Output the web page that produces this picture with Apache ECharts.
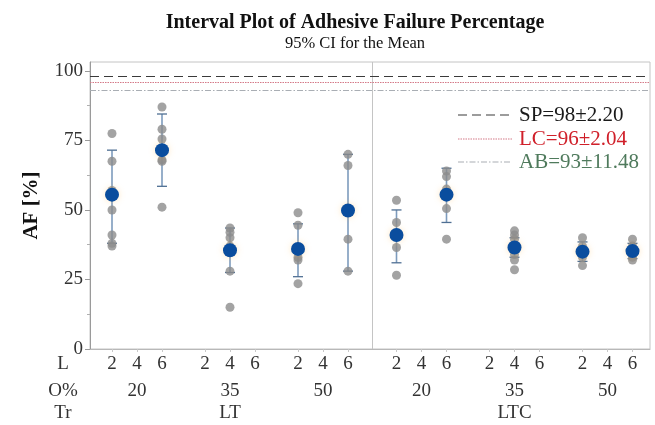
<!DOCTYPE html>
<html>
<head>
<meta charset="utf-8">
<script src="https://cdn.jsdelivr.net/npm/echarts@6/dist/echarts.min.js"></script>
<style>html,body{margin:0;padding:0;background:#fff}#c{width:655px;height:425px}</style>
</head>
<body>
<div id="c"></div>
<script>
// ---- data ----
var trLabels = ['LT', 'LTC'];
var oLabels = ['20', '35', '50', '20', '35', '50'];
var lLabels = ['2', '4', '6'];
// cells that have data: [group index, level index]
var cells = [[0,0],[0,2],[1,1],[2,0],[2,2],[3,0],[3,2],[4,1],[5,0],[5,2]];
var means = [55.5, 71.5, 35.5, 36, 49.8, 41, 55.5, 36.5, 35, 35.2];
var ciLow = [38, 58.5, 27.5, 26, 28, 31, 45.5, 33, 31.5, 32.5];
var ciHigh = [71.5, 84.5, 43.5, 45, 70, 50, 65, 40, 38.5, 38];
var obs = [
  [77.5, 67.5, 57, 50, 41, 38, 37],
  [87, 79, 75.5, 68, 67.5, 51],
  [43.5, 42, 40, 37, 28, 15],
  [49, 44.5, 33, 32, 23.5],
  [70, 66, 39.5, 28],
  [53.5, 45.5, 36.5, 26.5],
  [64, 62, 57.5, 50.5, 39.5],
  [42.5, 41, 39.5, 34, 32, 28.5],
  [40, 37, 33, 30],
  [39.5, 37, 34, 33, 32]
];
var refNames = ['SP=98\u00b12.20', 'LC=96\u00b12.04', 'AB=93\u00b111.48'];
var refValues = [98, 96, 93];
var yTicks = [0, 25, 50, 75, 100];

// ---- layout helpers ----
function pos(g, l) { return g * 3.72 + l + (g >= 3 ? 0.22 : 0); }
var slotPos = [], slotLab = {};
for (var g = 0; g < 6; g++) for (var l = 0; l < 3; l++) { var p = +pos(g, l).toFixed(3); slotPos.push(p); slotLab[p] = lLabels[l]; }
var grpPos = [], grpLab = {};
for (var g2 = 0; g2 < 6; g2++) { var c = +pos(g2, 1).toFixed(3); grpPos.push(c); grpLab[c] = oLabels[g2]; }
var trPos = [+((pos(0,0)+pos(2,2))/2).toFixed(3), +((pos(3,0)+pos(5,2))/2).toFixed(3)];
var trLab = {}; trLab[trPos[0]] = trLabels[0]; trLab[trPos[1]] = trLabels[1];
var divider = (pos(2,2) + pos(3,0)) / 2;

var ptData = [], meanData = [], ciData = [];
cells.forEach(function (cl, i) {
  var x = pos(cl[0], cl[1]);
  obs[i].forEach(function (v) { ptData.push([x, v]); });
  meanData.push([x, means[i]]);
  ciData.push([x, ciLow[i], ciHigh[i]]);
});

var serif = '"Liberation Serif", "DejaVu Serif", serif';
var refStyles = [
  {color: '#3a3a3a', type: [9, 5], width: 1.2},
  {color: '#d47a88', type: [1.5, 1], width: 1.2},
  {color: '#a9aeb4', type: [6, 2, 1.5, 2], width: 1.2}
];
var refTextColors = ['#1a1a1a', '#d0202a', '#4f7a5c'];

var chart = echarts.init(document.getElementById('c'), null, {renderer: 'canvas'});
var xBase = {type: 'value', min: -0.88, max: 21.52, position: 'bottom', splitLine: {show: false}};
var graphics = [];
['L', 'O%', 'Tr'].forEach(function (t, i) {
  graphics.push({type: 'text', x: 63, y: [364, 391, 413][i],
    style: {text: t, font: '19px ' + serif, fill: '#333', align: 'center', verticalAlign: 'middle'}});
});
refNames.forEach(function (t, i) {
  var yy = [115, 139, 162][i];
  graphics.push({type: 'line', shape: {x1: 458, y1: yy, x2: 512, y2: yy},
    style: {stroke: refStyles[i].color, lineWidth: 1.2, lineDash: refStyles[i].type}});
  graphics.push({type: 'text', x: 519, y: yy,
    style: {text: t, font: '21px ' + serif, fill: refTextColors[i], verticalAlign: 'middle'}});
});

chart.setOption({
  animation: false,
  backgroundColor: '#fff',
  title: {
    text: 'Interval Plot of Adhesive Failure Percentage',
    subtext: '95% CI for the Mean',
    left: 350, textAlign: 'center', top: 8, itemGap: 2,
    textStyle: {fontFamily: serif, fontWeight: 'bold', fontSize: 20, color: '#111'},
    subtextStyle: {fontFamily: serif, fontSize: 16.5, color: '#111'}
  },
  grid: {left: 90, right: 5, top: 62, bottom: 76, show: true, borderColor: '#c4c4c4', borderWidth: 1},
  xAxis: [
    Object.assign({}, xBase, {
      axisLine: {show: true, onZero: false, lineStyle: {color: '#b8b8b8'}},
      axisTick: {show: true, length: 3, customValues: slotPos, lineStyle: {color: '#c8c8c8'}},
      axisLabel: {customValues: slotPos, margin: 6, fontFamily: serif, fontSize: 19, color: '#333',
        formatter: function (v) { return slotLab[+v.toFixed(3)] || ''; }}
    }),
    Object.assign({}, xBase, {
      offset: 27, axisLine: {show: false, onZero: false}, axisTick: {show: false},
      axisLabel: {customValues: grpPos, margin: 6, fontFamily: serif, fontSize: 19, color: '#333',
        formatter: function (v) { return grpLab[+v.toFixed(3)] || ''; }}
    }),
    Object.assign({}, xBase, {
      offset: 50, axisLine: {show: false, onZero: false}, axisTick: {show: false},
      axisLabel: {customValues: trPos, margin: 5, fontFamily: serif, fontSize: 19, color: '#333',
        formatter: function (v) { return trLab[+v.toFixed(3)] || ''; }}
    })
  ],
  yAxis: {
    type: 'value', min: 0, max: 103.2, interval: 25,
    name: 'AF [%]', nameLocation: 'middle', nameGap: 48,
    nameTextStyle: {fontFamily: serif, fontWeight: 'bold', fontSize: 21, color: '#111'},
    axisLine: {show: true, onZero: false, lineStyle: {color: '#9a9a9a'}},
    axisTick: {show: true, length: 5, customValues: yTicks, lineStyle: {color: '#9a9a9a'}},
    minorTick: {show: true, splitNumber: 2, length: 3, lineStyle: {color: '#b0b0b0'}},
    splitLine: {show: false},
    axisLabel: {customValues: yTicks, margin: 7, fontFamily: serif, fontSize: 19, color: '#333'}
  },
  graphic: graphics,
  series: [
    {
      type: 'line', data: [], silent: true,
      markLine: {
        silent: true, symbol: 'none', label: {show: false},
        data: [
          {xAxis: divider, lineStyle: {color: '#c4c4c4', type: 'solid', width: 1}},
          {yAxis: refValues[0], lineStyle: refStyles[0]},
          {yAxis: refValues[1], lineStyle: refStyles[1]},
          {yAxis: refValues[2], lineStyle: refStyles[2]}
        ]
      }
    },
    {
      type: 'custom', data: ciData, z: 2,
      renderItem: function (params, api) {
        var x = api.value(0);
        var lo = api.coord([x, api.value(1)]);
        var hi = api.coord([x, api.value(2)]);
        var w = 5;
        var st = {stroke: '#4f6f93', lineWidth: 1.3};
        return {type: 'group', children: [
          {type: 'line', shape: {x1: lo[0], y1: lo[1], x2: hi[0], y2: hi[1]}, style: {stroke: '#7d9bbd', lineWidth: 1.6}},
          {type: 'line', shape: {x1: lo[0] - w, y1: lo[1], x2: lo[0] + w, y2: lo[1]}, style: st},
          {type: 'line', shape: {x1: hi[0] - w, y1: hi[1], x2: hi[0] + w, y2: hi[1]}, style: st}
        ]};
      }
    },
    {
      type: 'scatter', data: ptData, symbolSize: 9, z: 3,
      itemStyle: {color: '#8c8c8c', opacity: 0.8}
    },
    {
      type: 'scatter', data: meanData, symbolSize: 14, z: 4,
      itemStyle: {color: '#0a4d9e', opacity: 1, shadowBlur: 6, shadowColor: 'rgba(255,190,90,0.35)'}
    }
  ]
});
</script>
</body>
</html>
